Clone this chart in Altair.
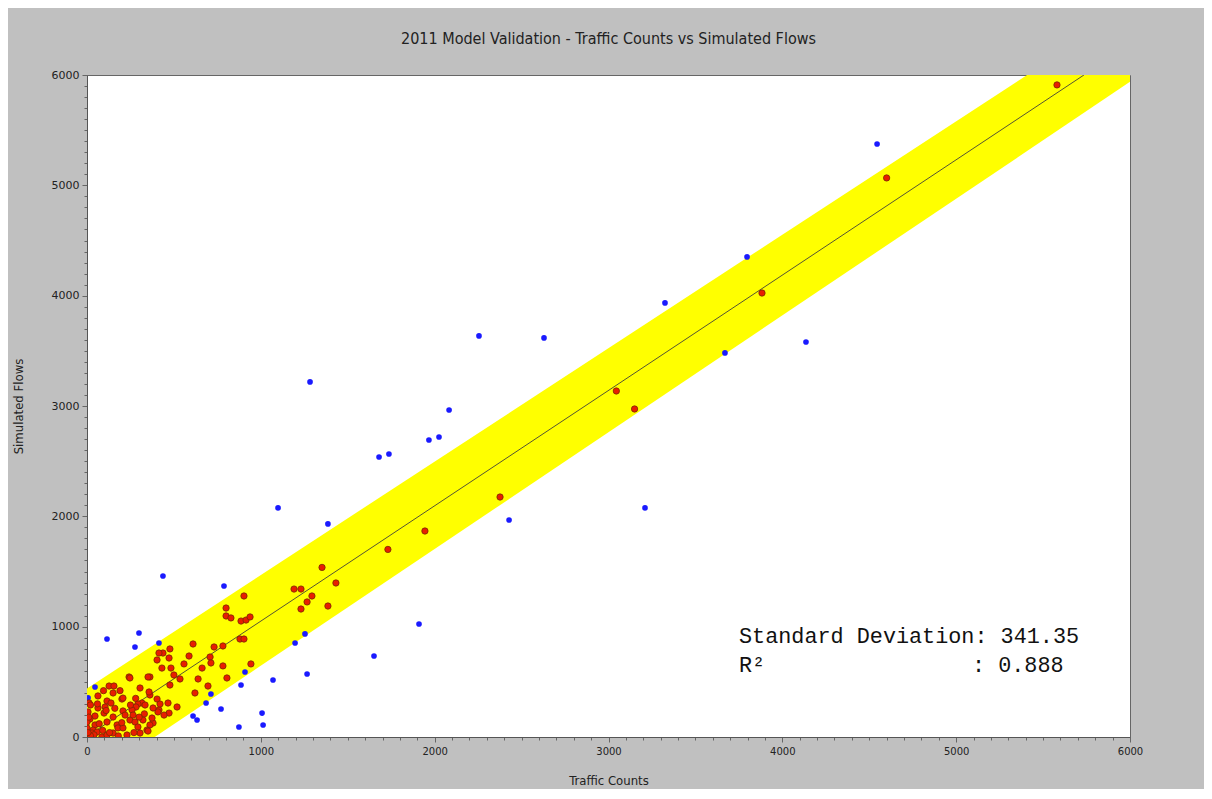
import altair as alt
import pandas as pd

# ---- data ----
red_x = [5580, 4600, 3883, 3045, 3150, 2376, 1944, 1731,
         1352, 1432, 1191, 1231, 1294, 1266, 1231, 1386,
         903, 800, 800, 828, 886, 915, 938, 880, 903,
         943, 805, 782, 782, 731, 610, 587, 558, 708, 713,
         662, 639, 696, 621, 535, 500, 477, 483, 472, 477,
         437, 414, 403, 431, 362, 466, 518, 472, 414, 403,
         420, 443, 380, 362, 408,
         242, 351, 127, 155, 150, 305, 357, 63, 12, 115,
         138, 201, 316, 293, 282, 334, 380,
         63, 104, 46, 17, 46, 35, 98, 115, 150, 207, 219,
         247, 259, 265, 173, 178, 207, 276, 293, 322, 374,
         362, 345, 351, 0, 29, 58, 86, 115, 6, 0, 150, 230,
         305, 247, 207,
         20, 10, 40, 70, 90, 130, 180, 200, 20, 5, 60, 110, 160, 250, 270, 330, 95, 190, 280, 300]
red_y = [5910, 5067, 4024, 3136, 2973, 2175, 1867, 1700,
         1537, 1396, 1341, 1341, 1278, 1224, 1160, 1187,
         1278, 1169, 1097, 1079, 1051, 1060, 1088, 888, 888,
         662, 535, 644, 825, 816, 843, 734, 662, 725, 671,
         625, 526, 462, 399, 526, 562, 471, 625, 716, 798,
         761, 761, 698, 625, 544, 308, 272, 217, 245, 344,
         299, 199, 127, 381, 227,
         544, 544, 462, 462, 399, 444, 408, 372, 308, 326,
         308, 344, 308, 299, 272, 290, 263,
         263, 272, 190, 163, 109, 63, 217, 136, 181, 236, 199,
         154, 245, 199, 109, 82, 82, 136, 91, 154, 172,
         109, 63, 54, 82, 36, 45, 0, 18, 227, 136, 36, 18,
         36, 535, 353,
         290, 180, 20, 120, 60, 40, 10, 130, 10, 40, 300, 240, 260, 290, 40, 210, 420, 420, 350, 180]

blue_x = [4545, 3797, 4136, 3670, 3325, 2255, 2629, 1283,
          2083, 2025, 1967, 1737, 1680, 1099, 1386, 2428,
          3210, 1910, 1651, 437, 788, 115, 299, 276, 414,
          1197, 1254, 909, 1070, 1266, 886, 713, 685, 771,
          610, 633, 1007, 1013, 874, 46, 6]
blue_y = [5375, 4351, 3580, 3481, 3934, 3635, 3617, 3218,
          2964, 2719, 2692, 2565, 2538, 2076, 1931, 1967,
          2076, 1024, 734, 1459, 1369, 888, 943, 816, 852,
          852, 934, 589, 517, 571, 471, 390, 308, 254,
          190, 154, 217, 109, 91, 453, 354]

# tolerance band (±1 SD around fit) and fitted line
band_x = [0, 390, 5408, 6000]
band_upper = [440, 841, 6000, 6000]
band_lower = [0, 0, 5311, 5938]
fit_x = [0, 5735]
fit_y = [5, 6000]

title_text = "2011 Model Validation - Traffic Counts vs Simulated Flows"
stat_line1 = "Standard Deviation: 341.35"
stat_line2_a = "R²"
stat_line2_b = ": 0.888"

red_df = pd.DataFrame({"x": red_x, "y": red_y})
blue_df = pd.DataFrame({"x": blue_x, "y": blue_y})
band_df = pd.DataFrame({"x": band_x, "y": band_lower, "hi": band_upper})
fit_df = pd.DataFrame({"x": fit_x, "y": fit_y})

W, H = 1043, 662
narrow = "Liberation Sans Narrow, DejaVu Sans Condensed, sans-serif"

xscale = alt.Scale(domain=[0, 6000], nice=False)
yscale = alt.Scale(domain=[0, 6000], nice=False)
minor_vals = list(range(0, 6001, 100))

common = dict(
    values=minor_vals, grid=False,
    labelExpr="datum.value % 1000 === 0 ? datum.value : ''",
    labelOverlap=False, labelBound=False, labelFlush=False,
    tickSize={"condition": {"test": "datum.value % 1000 === 0", "value": 5}, "value": 3},
    tickColor="#666666", domainColor="#555555", labelColor="#222222",
    labelFont="DejaVu Sans",
    titleFont=narrow, titleFontSize=13, titleFontWeight="normal", titleColor="#222222",
)
x_axis = alt.Axis(title="Traffic Counts", labelPadding=4, labelFontSize=10,
                  titleY=43, titleBaseline="middle", **common)
y_axis = alt.Axis(title="Simulated Flows", labelPadding=3, labelFontSize=11,
                  titleX=-69, titleY=H / 2, titleAngle=-90, titleBaseline="middle",
                  titleAlign="center", **common)

X = alt.X("x:Q", scale=xscale, axis=x_axis)
Y = alt.Y("y:Q", scale=yscale, axis=y_axis)

band = alt.Chart(band_df).mark_area(color="#ffff00", opacity=1, clip=True).encode(
    x=X, y=Y, y2="hi:Q",
)
fit = alt.Chart(fit_df).mark_line(color="#555533", strokeWidth=1, clip=True).encode(x=X, y=Y)
blue = alt.Chart(blue_df).mark_circle(color="#1a1aff", size=32, opacity=1, clip=True).encode(x=X, y=Y)
red = alt.Chart(red_df).mark_point(
    shape="circle", filled=True, fill="#e81e00", stroke="#7a2a00", strokeWidth=0.8,
    size=40, opacity=1, clip=True,
).encode(x=X, y=Y)

mono = "Liberation Mono, Courier New, monospace"
txt1 = alt.Chart(pd.DataFrame({"t": [stat_line1]})).mark_text(
    font=mono, fontSize=21.8, align="left", baseline="middle", color="#111111"
).encode(text="t:N", x=alt.value(652), y=alt.value(561))
txt2 = alt.Chart(pd.DataFrame({"t": [stat_line2_a]})).mark_text(
    font=mono, fontSize=21.8, align="left", baseline="middle", color="#111111"
).encode(text="t:N", x=alt.value(652), y=alt.value(590))
txt3 = alt.Chart(pd.DataFrame({"t": [stat_line2_b]})).mark_text(
    font=mono, fontSize=21.8, align="left", baseline="middle", color="#111111"
).encode(text="t:N", x=alt.value(885), y=alt.value(590))

chart = alt.layer(band, fit, blue, red, txt1, txt2, txt3).properties(
    width=W, height=H,
    title=alt.TitleParams(title_text, font=narrow, fontSize=16, fontWeight="normal",
                          color="#222222", anchor="middle", offset=22),
    background="#c0c0c0",
    autosize=alt.AutoSizeParams(type="none"),
    padding={"left": 79, "top": 67, "right": 74, "bottom": 52},
).configure_view(stroke="#666666", fill="white")

chart.save("out.html", embed_options={"renderer": "svg", "actions": False})
